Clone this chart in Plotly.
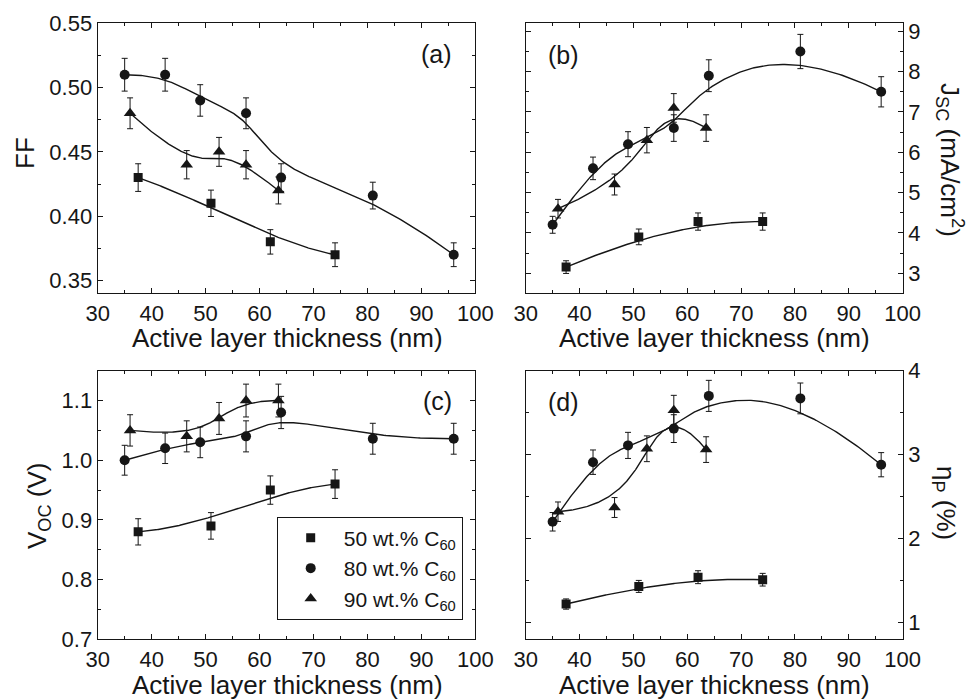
import numpy as np
import plotly.graph_objects as go

# Active layer thickness (nm) for each blend composition
x_50 = [37.5, 51, 62, 74]
x_80 = [35, 42.5, 49, 57.5, 64, 81, 96]
x_90 = [36, 46.5, 52.5, 57.5, 63.5]

# Fill factor
ff_50 = [0.43, 0.41, 0.38, 0.37]
ff_80 = [0.51, 0.51, 0.49, 0.48, 0.43, 0.416, 0.37]
ff_90 = [0.48, 0.44, 0.45, 0.44, 0.42]

# Short-circuit current density (mA/cm^2)
jsc_50 = [3.15, 3.9, 4.28, 4.28]
jsc_80 = [4.2, 5.6, 6.2, 6.6, 7.9, 8.5, 7.5]
jsc_90 = [4.6, 5.2, 6.3, 7.1, 6.6]

# Open-circuit voltage (V)
voc_50 = [0.88, 0.89, 0.95, 0.96]
voc_80 = [1.0, 1.02, 1.03, 1.04, 1.08, 1.036, 1.036]
voc_90 = [1.05, 1.04, 1.07, 1.1, 1.1]

# Power conversion efficiency (%)
eta_50 = [1.22, 1.43, 1.54, 1.51]
eta_80 = [2.2, 2.91, 3.11, 3.31, 3.7, 3.67, 2.88]
eta_90 = [2.32, 2.37, 3.07, 3.53, 3.06]

# Relative uncertainty of each quantity
err_ff = 0.025
err_jsc = 0.05
err_voc = 0.025
err_eta = 0.05

series_names = ["50 wt.% C<sub>60</sub>", "80 wt.% C<sub>60</sub>", "90 wt.% C<sub>60</sub>"]
symbols = ["square", "circle", "triangle-up"]
sizes = [9, 10, 11]

INK = "#161616"
FONT = "Liberation Sans, Arial, sans-serif"
W, H = 967, 699


def bspline_curve(xs, ys, n=300, k=3):
    """Clamped B-spline using the data points as control points."""
    P = np.column_stack([xs, ys]).astype(float)
    m = len(P)
    k = min(k, m - 1)
    t = np.concatenate([np.zeros(k), np.linspace(0, 1, m - k + 1), np.ones(k)])
    u = np.linspace(0, 1, n)
    N = np.zeros((n, len(t) - 1))
    for i in range(len(t) - 1):
        N[:, i] = ((u >= t[i]) & (u < t[i + 1])).astype(float)
    last = max(i for i in range(len(t) - 1) if t[i] < t[i + 1])
    N[u >= 1.0, last] = 1.0
    for p in range(1, k + 1):
        Nn = np.zeros((n, len(t) - 1 - p))
        for i in range(len(t) - 1 - p):
            d1 = t[i + p] - t[i]
            d2 = t[i + p + 1] - t[i + 1]
            a = (u - t[i]) / d1 * N[:, i] if d1 > 0 else 0.0
            b = (t[i + p + 1] - u) / d2 * N[:, i + 1] if d2 > 0 else 0.0
            Nn[:, i] = a + b
        N = Nn
    C = N @ P
    return C[:, 0], C[:, 1]


fig = go.Figure()

panels = [
    ("x", "y", [ff_50, ff_80, ff_90], err_ff, False),
    ("x2", "y2", [jsc_50, jsc_80, jsc_90], err_jsc, False),
    ("x3", "y3", [voc_50, voc_80, voc_90], err_voc, True),
    ("x4", "y4", [eta_50, eta_80, eta_90], err_eta, False),
]
xs_all = [x_50, x_80, x_90]

for xa, ya, ys_all, rel, legend in panels:
    for xs, ys, sym, sz, name in zip(xs_all, ys_all, symbols, sizes, series_names):
        cx, cy = bspline_curve(xs, ys)
        fig.add_trace(go.Scatter(
            x=cx, y=cy, mode="lines", xaxis=xa, yaxis=ya,
            line=dict(color=INK, width=1.4), showlegend=False, hoverinfo="skip"))
        fig.add_trace(go.Scatter(
            x=xs, y=ys, mode="markers", xaxis=xa, yaxis=ya, name=name,
            marker=dict(symbol=sym, size=sz, color=INK),
            error_y=dict(type="data", array=[v * rel for v in ys],
                         color=INK, thickness=1, width=3),
            showlegend=legend, legendgroup=name))

# plot-area boxes in pixels (left, right, top, bottom)
boxes = {
    "a": (97.7, 475.3, 23.3, 293.3),
    "b": (525.7, 902.7, 23.3, 293.3),
    "c": (97.7, 475.3, 370.7, 639.3),
    "d": (525.7, 902.7, 370.7, 639.3),
}


def xdom(b):
    return [b[0] / W, b[1] / W]


def ydom(b):
    return [1 - b[3] / H, 1 - b[2] / H]


axis_common = dict(
    showline=True, linecolor=INK, linewidth=1.3, mirror="ticks",
    ticks="inside", ticklen=5, tickwidth=1.2, tickcolor=INK,
    showgrid=False, zeroline=False,
    tickfont=dict(family=FONT, size=22, color=INK),
)
xaxis_common = dict(axis_common, range=[30, 100], dtick=10, tick0=30,
                    minor=dict(ticks="inside", ticklen=3, dtick=5, tickcolor=INK, tickwidth=1.2))

layout = dict(
    width=W, height=H,
    margin=dict(l=0, r=0, t=0, b=0, autoexpand=False),
    paper_bgcolor="white", plot_bgcolor="white",
    font=dict(family=FONT, color=INK),
    xaxis=dict(xaxis_common, domain=xdom(boxes["a"]), anchor="y"),
    yaxis=dict(axis_common, domain=ydom(boxes["a"]), anchor="x", range=[0.34, 0.55],
               dtick=0.05, tick0=0.35, tickformat=".2f",
               minor=dict(ticks="inside", ticklen=3, dtick=0.025, tickcolor=INK, tickwidth=1.2)),
    xaxis2=dict(xaxis_common, domain=xdom(boxes["b"]), anchor="y2"),
    yaxis2=dict(axis_common, domain=ydom(boxes["b"]), anchor="x2", side="right",
                range=[2.5, 9.2], dtick=1, tick0=3,
                minor=dict(ticks="inside", ticklen=3, dtick=0.5, tickcolor=INK, tickwidth=1.2)),
    xaxis3=dict(xaxis_common, domain=xdom(boxes["c"]), anchor="y3"),
    yaxis3=dict(axis_common, domain=ydom(boxes["c"]), anchor="x3", range=[0.7, 1.15],
                dtick=0.1, tick0=0.7, tickformat=".1f",
                minor=dict(ticks="inside", ticklen=3, dtick=0.05, tickcolor=INK, tickwidth=1.2)),
    xaxis4=dict(xaxis_common, domain=xdom(boxes["d"]), anchor="y4"),
    yaxis4=dict(axis_common, domain=ydom(boxes["d"]), anchor="x4", side="right",
                range=[0.8, 4.0], dtick=1, tick0=1,
                minor=dict(ticks="inside", ticklen=3, dtick=0.5, tickcolor=INK, tickwidth=1.2)),
    legend=dict(
        x=276.7 / W, y=1 - 516.7 / H, xanchor="left", yanchor="top",
        bgcolor="white", bordercolor=INK, borderwidth=1,
        font=dict(family=FONT, size=21, color=INK),
        itemwidth=56, tracegroupgap=0,
    ),
    showlegend=True,
)
fig.update_layout(**layout)


def px_ann(text, x, y, size, angle=0, **kw):
    fig.add_annotation(text=text, x=x / W, y=1 - y / H, xref="paper", yref="paper",
                       showarrow=False, textangle=angle,
                       font=dict(family=FONT, size=size, color=INK),
                       xanchor="center", yanchor="middle", **kw)


# panel labels
px_ann("(a)", 436, 54, 25)
px_ann("(b)", 563, 55, 25)
px_ann("(c)", 437, 401, 25)
px_ann("(d)", 563, 402, 25)

# axis titles
xt = "Active layer thickness (nm)"
px_ann(xt, 287.5, 338, 26)
px_ann(xt, 714, 338, 26)
px_ann(xt, 287.5, 685, 26)
px_ann(xt, 714, 685, 26)
px_ann("FF", 25, 153, 26, angle=-90)
px_ann("V<sub>OC</sub> (V)", 38, 506, 26, angle=-90)
px_ann("J<sub>SC</sub> (mA/cm<sup>2</sup>)", 950, 160, 26, angle=90)
px_ann("η<sub>P</sub> (%)", 945, 503, 26, angle=90)

fig.write_html("out.html")
